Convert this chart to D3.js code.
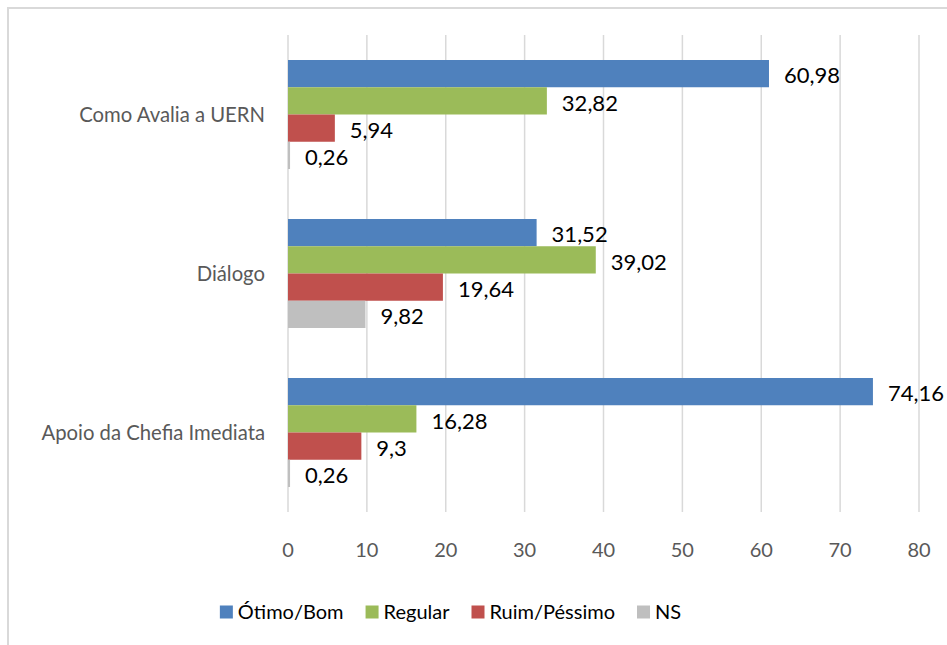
<!DOCTYPE html>
<html>
<head>
<meta charset="utf-8">
<script src="https://cdn.jsdelivr.net/npm/d3@7"></script>
<style>
  html, body { margin: 0; padding: 0; background: #fff; }
  svg { display: block; font-family: Lato, "Open Sans", sans-serif; }
</style>
</head>
<body>
<svg id="chart" width="947" height="645"></svg>
<script>
// Data
const categories = ['Como Avalia a UERN', 'Diálogo', 'Apoio da Chefia Imediata'];
const series = ['Ótimo/Bom', 'Regular', 'Ruim/Péssimo', 'NS'];
const colors = ['#4f81bd', '#9bbb59', '#c0504d', '#bfbfbf'];
const otimoBom = [60.98, 31.52, 74.16];
const regular = [32.82, 39.02, 16.28];
const ruimPessimo = [5.94, 19.64, 9.3];
const ns = [0.26, 9.82, 0.26];
const xTicks = [0, 10, 20, 30, 40, 50, 60, 70, 80];

const values = [otimoBom, regular, ruimPessimo, ns];

const svg = d3.select('#chart');

// Outer frame (chart area border)
svg.append('rect')
  .attr('x', 8).attr('y', 8)
  .attr('width', 980).attr('height', 680)
  .attr('fill', 'none')
  .attr('stroke', '#d9d9d9')
  .attr('stroke-width', 2);

const x = d3.scaleLinear().domain([0, 80]).range([288, 919]);

const y0 = d3.scaleBand()
  .domain(categories)
  .range([35, 512])
  .paddingInner(0.3145)
  .paddingOuter(0.3145 / 2);

const y1 = d3.scaleBand()
  .domain(series)
  .range([0, y0.bandwidth()]);

// Gridlines
svg.append('g')
  .selectAll('line')
  .data(xTicks)
  .join('line')
  .attr('x1', d => x(d)).attr('x2', d => x(d))
  .attr('y1', 35).attr('y2', 512)
  .attr('stroke', '#d9d9d9')
  .attr('stroke-width', 1.5);

// Tick labels
svg.append('g')
  .selectAll('text')
  .data(xTicks)
  .join('text')
  .attr('x', d => x(d))
  .attr('y', 557)
  .attr('text-anchor', 'middle')
  .attr('font-size', 20)
  .attr('fill', '#595959')
  .text(d => d);

// Category labels
svg.append('g')
  .selectAll('text')
  .data(categories)
  .join('text')
  .attr('x', 265)
  .attr('y', d => y0(d) + y0.bandwidth() / 2)
  .attr('dy', '0.35em')
  .attr('text-anchor', 'end')
  .attr('font-size', 20.3)
  .attr('fill', '#595959')
  .text(d => d);

// Bars
const rows = [];
categories.forEach((c, ci) => {
  series.forEach((s, si) => {
    rows.push({ category: c, series: s, si: si, value: values[si][ci] });
  });
});

const fmt = v => String(v).replace('.', ',');

const bars = svg.append('g');
bars.selectAll('rect')
  .data(rows)
  .join('rect')
  .attr('x', x(0))
  .attr('y', d => y0(d.category) + y1(d.series))
  .attr('width', d => x(d.value) - x(0))
  .attr('height', y1.bandwidth())
  .attr('fill', d => colors[d.si]);

// Value labels
svg.append('g')
  .selectAll('text')
  .data(rows)
  .join('text')
  .attr('x', d => x(d.value) + 15)
  .attr('y', d => y0(d.category) + y1(d.series) + y1.bandwidth() / 2 + 2)
  .attr('dy', '0.35em')
  .attr('font-size', 22)
  .attr('fill', '#000')
  .text(d => fmt(d.value));

// Legend
const legend = svg.append('g');
const items = legend.selectAll('g')
  .data(series)
  .join('g');

items.append('rect')
  .attr('width', 13).attr('height', 13)
  .attr('y', -6.5)
  .attr('fill', (d, i) => colors[i]);

items.append('text')
  .attr('x', 18)
  .attr('dy', '0.35em')
  .attr('font-size', 20)
  .attr('fill', '#000')
  .text(d => d);

let offset = 0;
const widths = [];
items.each(function () {
  const w = 18 + this.querySelector('text').getComputedTextLength();
  widths.push(w);
});
const gap = 22;
const total = d3.sum(widths) + gap * (widths.length - 1);
let start = 450.5 - total / 2;
items.attr('transform', (d, i) => {
  const t = `translate(${start + offset},612)`;
  offset += widths[i] + gap;
  return t;
});
</script>
</body>
</html>
